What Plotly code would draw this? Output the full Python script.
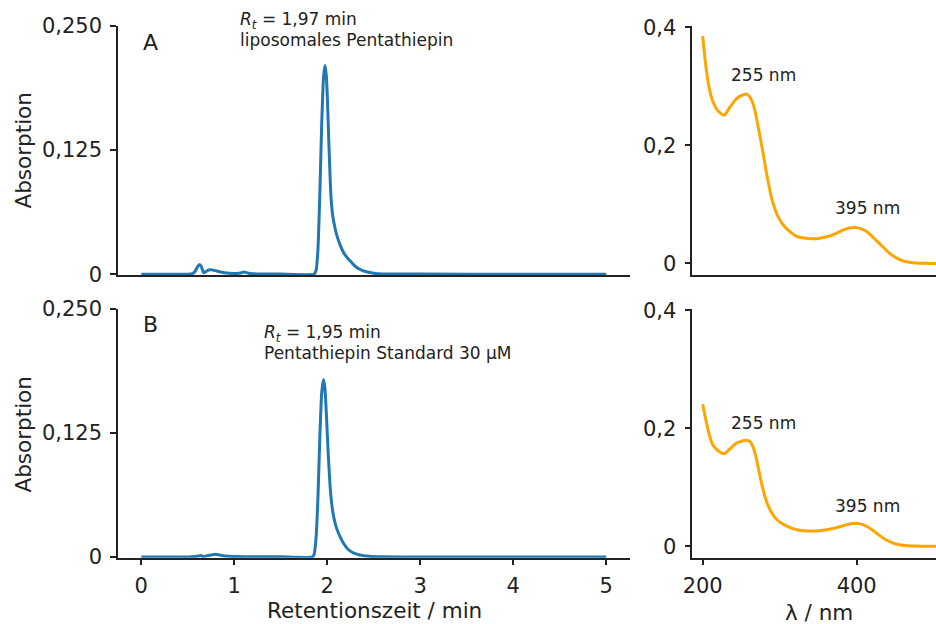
import plotly.graph_objects as go

# ---- Chromatogram A: liposomal pentathiepin (time in min, absorbance) ----
time_a = [0.0, 0.50, 0.55, 0.58, 0.605, 0.627, 0.645, 0.67, 0.70, 0.725, 0.75, 0.78, 0.82, 0.88, 0.95,
          1.03, 1.08, 1.105, 1.13, 1.17, 1.25, 1.50, 1.86, 1.88, 1.90, 1.92, 1.94, 1.96, 1.975, 1.99,
          2.00, 2.02, 2.04, 2.06, 2.08, 2.10, 2.14, 2.18, 2.22, 2.26, 2.30, 2.35, 2.42, 2.50, 2.60,
          3.00, 4.00, 5.00]
abs_a = [0.0, 0.0, 0.0006, 0.003, 0.0075, 0.0098, 0.0080, 0.0015, 0.0030, 0.0042, 0.0046, 0.0040,
         0.0030, 0.0018, 0.0010, 0.0007, 0.0015, 0.0023, 0.0016, 0.0007, 0.0003, 0.0001, 0.0002,
         0.004, 0.025, 0.080, 0.150, 0.198, 0.210, 0.200, 0.180, 0.125, 0.078, 0.058, 0.048, 0.040,
         0.029, 0.021, 0.016, 0.012, 0.008, 0.005, 0.0025, 0.001, 0.0003, 0.0001, 0.0, 0.0]

# ---- Chromatogram B: pentathiepin standard 30 µM ----
time_b = [0.0, 0.50, 0.58, 0.62, 0.645, 0.66, 0.70, 0.75, 0.796, 0.84, 0.90, 1.00, 1.20, 1.50, 1.84,
          1.86, 1.88, 1.90, 1.92, 1.94, 1.96, 1.975, 1.99, 2.01, 2.03, 2.05, 2.07, 2.10, 2.14, 2.18,
          2.22, 2.28, 2.35, 2.45, 2.60, 3.00, 4.00, 5.00]
abs_b = [0.0, 0.0, 0.0005, 0.0010, 0.0015, 0.0003, 0.0010, 0.0020, 0.0027, 0.0020, 0.0010, 0.0004,
         0.0002, 0.0001, 0.0, 0.003, 0.020, 0.060, 0.120, 0.165, 0.179, 0.170, 0.145, 0.105, 0.072,
         0.052, 0.040, 0.029, 0.020, 0.013, 0.008, 0.004, 0.002, 0.0007, 0.0001, 0.0, 0.0, 0.0]

# ---- UV/Vis spectra of the main peak (wavelength in nm, absorbance) ----
wl_a = [200, 204, 208, 213, 220, 228, 236, 244, 250, 256, 260, 264, 268, 272, 278, 284, 290, 298,
        306, 314, 322, 331, 340, 348, 357, 366, 375, 383, 390, 398, 405, 413, 420, 427, 435, 443,
        452, 461, 470, 480, 490, 500, 505]
spec_a = [0.385, 0.335, 0.300, 0.275, 0.258, 0.251, 0.266, 0.279, 0.284, 0.287, 0.284, 0.275, 0.258,
          0.232, 0.190, 0.145, 0.108, 0.079, 0.063, 0.053, 0.046, 0.043, 0.042, 0.042, 0.044, 0.047,
          0.052, 0.057, 0.060, 0.061, 0.059, 0.054, 0.046, 0.037, 0.027, 0.017, 0.009, 0.004, 0.0015,
          0.0005, 0.0002, 0.0001, 0.0001]

wl_b = [200, 204, 208, 213, 220, 228, 236, 244, 250, 256, 261, 265, 269, 273, 278, 284, 290, 297,
        305, 313, 322, 335, 348, 361, 372, 383, 392, 400, 407, 414, 421, 430, 439, 448, 457, 466,
        478, 490, 505]
spec_b = [0.241, 0.215, 0.192, 0.172, 0.162, 0.157, 0.166, 0.175, 0.178, 0.180, 0.178, 0.170, 0.153,
          0.128, 0.098, 0.072, 0.056, 0.044, 0.037, 0.032, 0.028, 0.026, 0.026, 0.028, 0.031, 0.035,
          0.038, 0.039, 0.037, 0.033, 0.027, 0.018, 0.010, 0.005, 0.002, 0.0008, 0.0002, 0.0001,
          0.0001]

# ---- tick values / labels (German decimal comma) ----
chrom_yticks = [0, 0.125, 0.25]
chrom_yticktext = ["0", "0,125", "0,250"]
chrom_xticks = [0, 1, 2, 3, 4, 5]
spec_yticks = [0, 0.2, 0.4]
spec_yticktext = ["0", "0,2", "0,4"]
spec_xticks = [200, 400]

BLUE = "#1f77b4"
ORANGE = "#ffa500"
INK = "#222222"
FONT = "DejaVu Sans"
W, H = 936, 624


def px_x(p):
    return p / W


def px_y(p):
    return 1 - p / H


fig = go.Figure()
fig.add_trace(go.Scatter(x=time_a, y=abs_a, mode="lines", xaxis="x", yaxis="y",
                         line=dict(color=BLUE, width=3, shape="spline", smoothing=0.5)))
fig.add_trace(go.Scatter(x=wl_a, y=spec_a, mode="lines", xaxis="x2", yaxis="y2",
                         line=dict(color=ORANGE, width=3, shape="spline", smoothing=0.6)))
fig.add_trace(go.Scatter(x=time_b, y=abs_b, mode="lines", xaxis="x3", yaxis="y3",
                         line=dict(color=BLUE, width=3, shape="spline", smoothing=0.5)))
fig.add_trace(go.Scatter(x=wl_b, y=spec_b, mode="lines", xaxis="x4", yaxis="y4",
                         line=dict(color=ORANGE, width=3, shape="spline", smoothing=0.6)))

axis_common = dict(showline=True, linecolor=INK, linewidth=1.5, showgrid=False, zeroline=False,
                   ticks="outside", ticklen=6, tickwidth=1.5, tickcolor=INK, layer="below traces",
                   automargin=False,
                   tickfont=dict(family=FONT, size=21, color=INK), fixedrange=True)
yaxis_common = dict(axis_common, ticklabelstandoff=4)
xaxis_common = dict(axis_common, ticklabelstandoff=2)

left_dom = [px_x(118), px_x(629.5)]
right_dom = [px_x(692.3), 1.0]
top_dom = [px_y(275), px_y(25.7)]
bot_dom = [px_y(557.7), px_y(309)]

chrom_yrange = [-0.0008, 0.25]
spec_yrange = [-0.0195, 0.4025]

fig.update_layout(
    width=W, height=H, margin=dict(l=0, r=0, t=0, b=0, autoexpand=False),
    paper_bgcolor="white", plot_bgcolor="white", showlegend=False,
    font=dict(family=FONT, color=INK),
    xaxis=dict(xaxis_common, domain=left_dom, range=[-0.25, 5.25], anchor="y",
               ticks="", showticklabels=False),
    yaxis=dict(yaxis_common, domain=top_dom, range=chrom_yrange, anchor="x",
               tickvals=chrom_yticks, ticktext=chrom_yticktext),
    xaxis2=dict(xaxis_common, domain=right_dom, range=[186.5, 503], anchor="y2",
                ticks="", showticklabels=False),
    yaxis2=dict(yaxis_common, domain=top_dom, range=spec_yrange, anchor="x2",
                tickvals=spec_yticks, ticktext=spec_yticktext),
    xaxis3=dict(xaxis_common, domain=left_dom, range=[-0.25, 5.25], anchor="y3",
                tickvals=chrom_xticks),
    yaxis3=dict(yaxis_common, domain=bot_dom, range=chrom_yrange, anchor="x3",
                tickvals=chrom_yticks, ticktext=chrom_yticktext),
    xaxis4=dict(xaxis_common, domain=right_dom, range=[186.5, 503], anchor="y4",
                tickvals=spec_xticks),
    yaxis4=dict(yaxis_common, domain=bot_dom, range=spec_yrange, anchor="x4",
                tickvals=spec_yticks, ticktext=spec_yticktext),
)

ann = []


def label(x, y, text, size=17, xanchor="left", angle=0):
    ann.append(dict(x=px_x(x), y=px_y(y), xref="paper", yref="paper", text=text,
                    showarrow=False, xanchor=xanchor, yanchor="middle", textangle=angle,
                    font=dict(family=FONT, size=size, color=INK)))


# panel letters
label(150, 42.5, "A", size=22, xanchor="center")
label(150, 324.5, "B", size=22, xanchor="center")

# retention-time notes
label(238, 20.5, "<i>R</i><sub><i>t</i></sub> = 1,97 min")
label(238, 39.5, "liposomales Pentathiepin")
label(262, 333.5, "<i>R</i><sub><i>t</i></sub> = 1,95 min")
label(262, 353, "Pentathiepin Standard 30 µM")

# absorption maxima
label(763, 75, "255 nm", xanchor="center")
label(867, 208, "395 nm", xanchor="center")
label(763, 423, "255 nm", xanchor="center")
label(867, 506, "395 nm", xanchor="center")

# axis titles
label(22.5, 151, "Absorption", size=21.5, xanchor="center", angle=-90)
label(22.5, 435, "Absorption", size=21.5, xanchor="center", angle=-90)
label(374, 610, "Retentionszeit / min", size=21.5, xanchor="center")
label(819, 612, "λ / nm", size=21.5, xanchor="center")

fig.update_layout(annotations=ann)

fig.write_html("out.html")
